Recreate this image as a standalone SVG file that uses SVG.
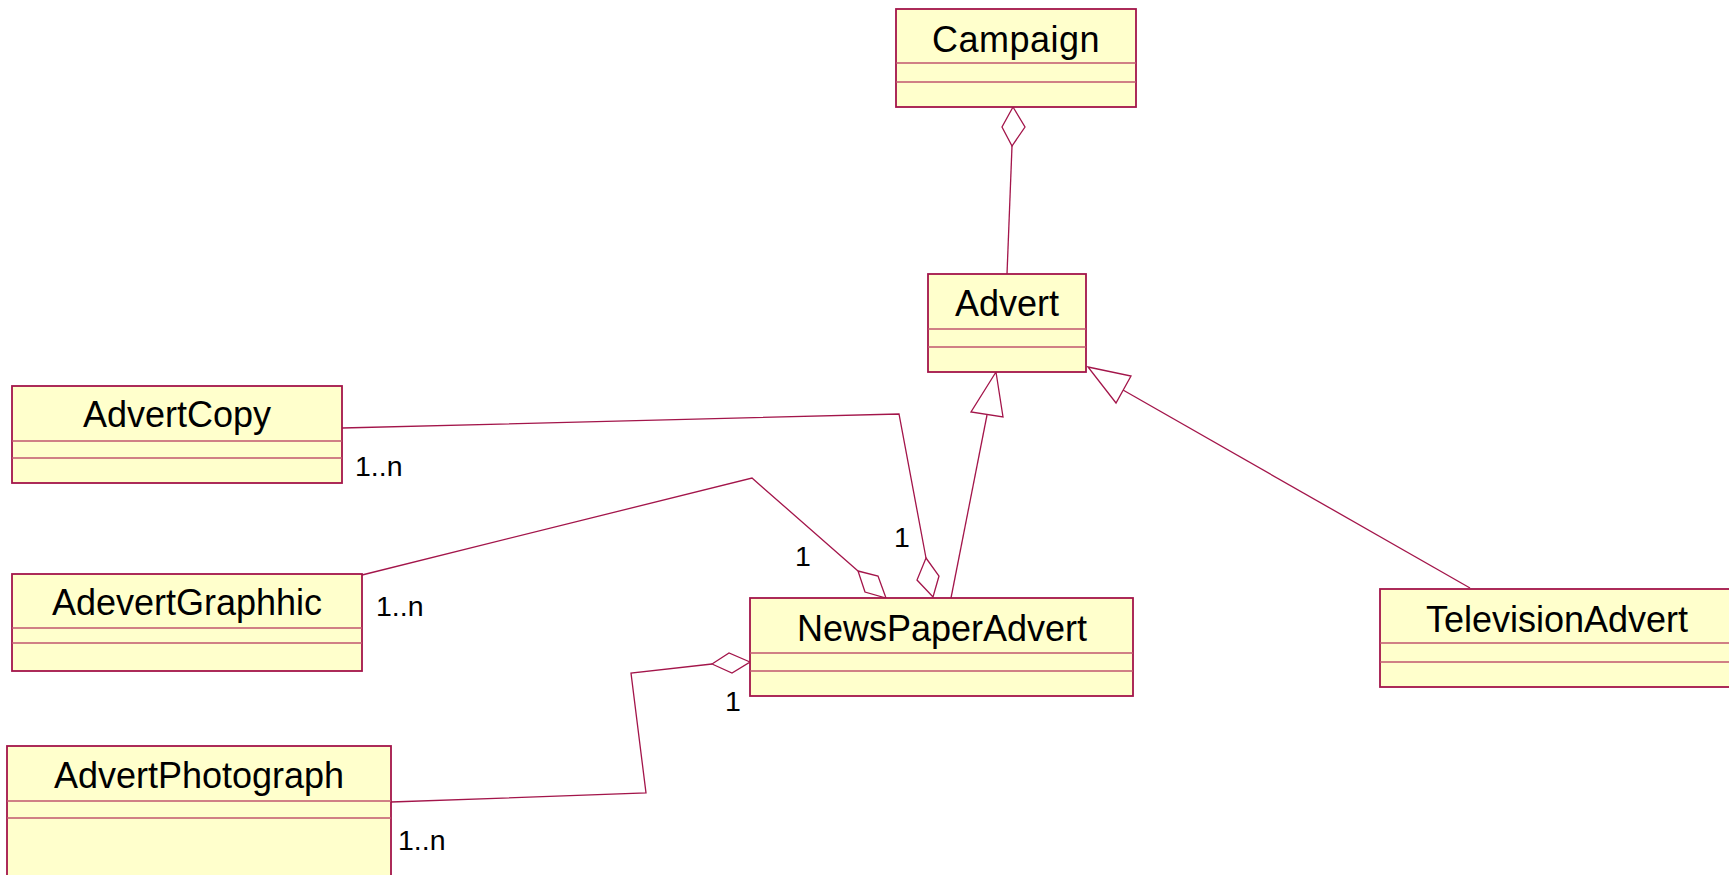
<svg xmlns="http://www.w3.org/2000/svg" width="1729" height="875" viewBox="0 0 1729 875">
  <style>
    .box { fill: #FFFFCC; stroke: #A3154A; stroke-width: 1.8; }
    .div { stroke: #C0566E; stroke-width: 1.4; }
    .name { font-family: "Liberation Sans", Arial, sans-serif; font-size: 36px; fill: #000; text-anchor: middle; }
    .mult { font-family: "Liberation Sans", Arial, sans-serif; font-size: 28.5px; fill: #000; }
    .conn { fill: none; stroke: #A3154A; stroke-width: 1.3; }
    .head { fill: #FFFFFF; stroke: #A3154A; stroke-width: 1.3; }
  </style>
  <rect width="1729" height="875" fill="#FFFFFF"/>

  <g id="connectors">
    <!-- Campaign <>— Advert -->
    <line class="conn" x1="1012" y1="146" x2="1007" y2="274"/>
    <polygon class="head" points="1013,107 1025,127 1012,146 1002,127"/>

    <!-- NewsPaperAdvert —|> Advert -->
    <line class="conn" x1="987" y1="415" x2="951" y2="598"/>
    <polygon class="head" points="996,372 1003,417 971,412"/>

    <!-- TelevisionAdvert —|> Advert -->
    <line class="conn" x1="1123" y1="390" x2="1470" y2="588"/>
    <polygon class="head" points="1088,367 1131,376 1116,403"/>

    <!-- AdvertCopy — NewsPaperAdvert -->
    <polyline class="conn" points="342,428 899,414 926,558"/>
    <polygon class="head" points="926,558 939,576 933,597 917,580"/>

    <!-- AdevertGraphhic — NewsPaperAdvert -->
    <polyline class="conn" points="362,575 752,478 858,571"/>
    <polygon class="head" points="858,571 878,576 886,598 865,592"/>

    <!-- AdvertPhotograph — NewsPaperAdvert -->
    <polyline class="conn" points="391,802 646,793 631,673 712,664"/>
    <polygon class="head" points="712,664 729,653 750,662 732,673"/>

    <!-- multiplicities -->
    <text class="mult" x="355" y="476">1..n</text>
    <text class="mult" x="376" y="616">1..n</text>
    <text class="mult" x="398" y="850">1..n</text>
    <text class="mult" x="795" y="566">1</text>
    <text class="mult" x="894" y="547">1</text>
    <text class="mult" x="725" y="711">1</text>
  </g>

  <g id="Campaign">
    <rect class="box" x="896" y="9" width="240" height="98"/>
    <line class="div" x1="896" y1="63" x2="1136" y2="63"/>
    <line class="div" x1="896" y1="82" x2="1136" y2="82"/>
    <text class="name" x="1016" y="52" letter-spacing="0.5">Campaign</text>
  </g>

  <g id="Advert">
    <rect class="box" x="928" y="274" width="158" height="98"/>
    <line class="div" x1="928" y1="329" x2="1086" y2="329"/>
    <line class="div" x1="928" y1="347" x2="1086" y2="347"/>
    <text class="name" x="1007" y="316">Advert</text>
  </g>

  <g id="AdvertCopy">
    <rect class="box" x="12" y="386" width="330" height="97"/>
    <line class="div" x1="12" y1="441" x2="342" y2="441"/>
    <line class="div" x1="12" y1="458" x2="342" y2="458"/>
    <text class="name" x="177" y="427">AdvertCopy</text>
  </g>

  <g id="AdevertGraphhic">
    <rect class="box" x="12" y="574" width="350" height="97"/>
    <line class="div" x1="12" y1="628" x2="362" y2="628"/>
    <line class="div" x1="12" y1="643" x2="362" y2="643"/>
    <text class="name" x="187" y="615">AdevertGraphhic</text>
  </g>

  <g id="AdvertPhotograph">
    <rect class="box" x="7" y="746" width="384" height="140"/>
    <line class="div" x1="7" y1="801" x2="391" y2="801"/>
    <line class="div" x1="7" y1="818" x2="391" y2="818"/>
    <text class="name" x="199" y="788">AdvertPhotograph</text>
  </g>

  <g id="NewsPaperAdvert">
    <rect class="box" x="750" y="598" width="383" height="98"/>
    <line class="div" x1="750" y1="653" x2="1133" y2="653"/>
    <line class="div" x1="750" y1="671" x2="1133" y2="671"/>
    <text class="name" x="942" y="641">NewsPaperAdvert</text>
  </g>

  <g id="TelevisionAdvert">
    <rect class="box" x="1380" y="589" width="360" height="98"/>
    <line class="div" x1="1380" y1="643" x2="1740" y2="643"/>
    <line class="div" x1="1380" y1="662" x2="1740" y2="662"/>
    <text class="name" x="1557" y="632">TelevisionAdvert</text>
  </g>
</svg>
